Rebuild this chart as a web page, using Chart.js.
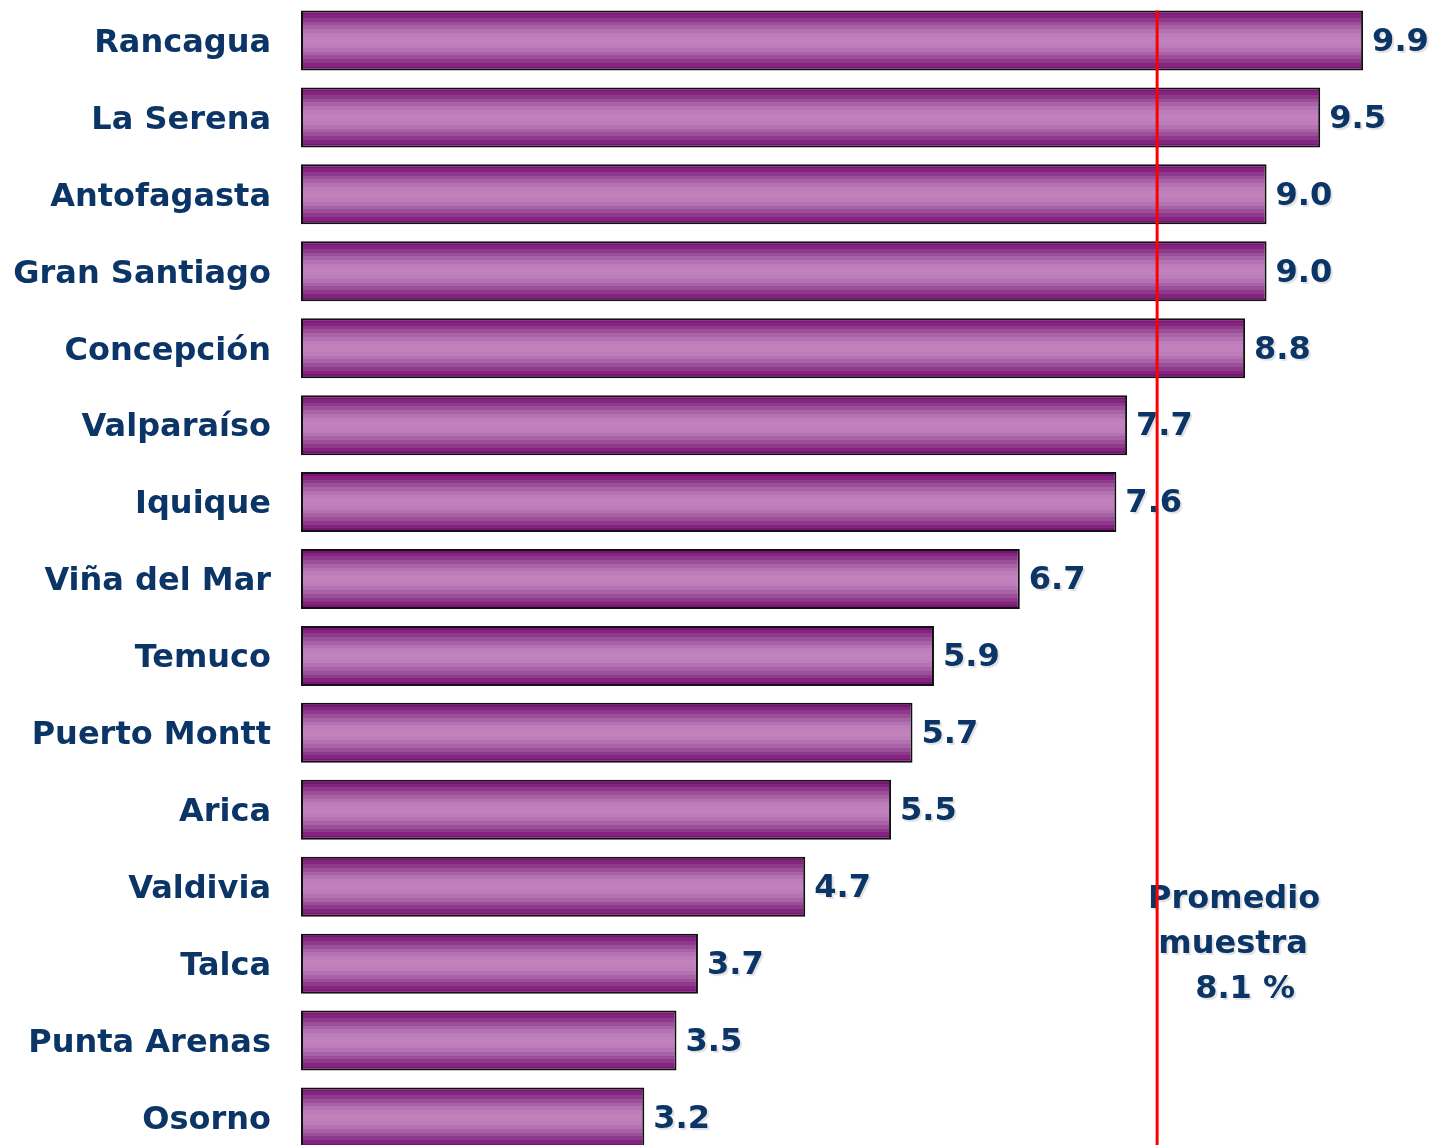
<!DOCTYPE html>
<html>
<head>
<meta charset="utf-8">
<script src="https://cdn.jsdelivr.net/npm/chart.js@4.4.1/dist/chart.umd.min.js"></script>
<style>
  html, body { margin: 0; padding: 0; background: #fff; overflow: hidden; }
  #wrap { position: relative; width: 1435px; height: 1156px; }
</style>
</head>
<body>
<div id="wrap"><canvas id="cities"></canvas></div>
<script>
const cities = ['Rancagua', 'La Serena', 'Antofagasta', 'Gran Santiago', 'Concepción', 'Valparaíso', 'Iquique',
  'Viña del Mar', 'Temuco', 'Puerto Montt', 'Arica', 'Valdivia', 'Talca', 'Punta Arenas', 'Osorno']
const rates = [9.9, 9.5, 9.0, 9.0, 8.8, 7.7, 7.6, 6.7, 5.9, 5.7, 5.5, 4.7, 3.7, 3.5, 3.2]
const avgLinePos = 7.98
const avgLabel = ['Promedio', 'muestra', '8.1 %']

const navy = '#0b3566'
const fontFamily = '"DejaVu Sans", Verdana, sans-serif'
const catPct = 0.78

// light/dark purple stripes, dark at the edges
const bandColors = ['#7a1278', '#84247f', '#8e3a8c', '#9b4f99', '#a862a6', '#b572b2', '#bd7cba', '#c081bd',
  '#c081bd', '#bd7cba', '#b572b2', '#a862a6', '#9b4f99', '#8e3a8c', '#84247f', '#7a1278']

const barFill = (ctx) => {
  const chart = ctx.chart
  const area = chart.chartArea
  if (!area) return '#a862a6'
  const yc = chart.scales.y.getPixelForValue(ctx.dataIndex)
  const half = (area.height / cities.length) * catPct / 2
  const g = chart.ctx.createLinearGradient(0, yc - half, 0, yc + half)
  const n = bandColors.length
  bandColors.forEach((c, i) => {
    g.addColorStop(i / n, c)
    g.addColorStop((i + 1) / n - 0.0001, c)
  })
  return g
}

const textShadow = (c) => {
  c.shadowColor = 'rgba(0, 0, 0, 0.12)'
  c.shadowOffsetX = 2
  c.shadowOffsetY = 2
  c.shadowBlur = 1
}

const valueLabels = {
  id: 'valueLabels',
  afterDatasetsDraw(chart) {
    const c = chart.ctx
    const meta = chart.getDatasetMeta(0)
    c.save()
    c.font = 'bold 32px ' + fontFamily
    c.fillStyle = navy
    c.textAlign = 'left'
    c.textBaseline = 'middle'
    textShadow(c)
    meta.data.forEach((bar, i) => {
      c.fillText(rates[i].toFixed(1), bar.x + 9, bar.y + 2)
    })
    c.restore()
  }
}

// average line goes over the texts, like in the slide
const avgLine = {
  id: 'avgLine',
  afterDraw(chart) {
    const c = chart.ctx
    const x = chart.scales.x.getPixelForValue(avgLinePos)
    const top = chart.getDatasetMeta(0).data[0]
    c.save()
    c.font = 'bold 32px ' + fontFamily
    c.fillStyle = navy
    c.textAlign = 'center'
    c.textBaseline = 'middle'
    textShadow(c)
    c.fillText(avgLabel[0], x + 77, 900)
    c.fillText(avgLabel[1], x + 76, 945)
    c.fillText(avgLabel[2], x + 88, 990)
    c.restore()

    c.save()
    c.strokeStyle = '#ff0000'
    c.lineWidth = 3
    c.beginPath()
    c.moveTo(x, top.y - top.height / 2)
    c.lineTo(x, chart.height)
    c.stroke()
    c.restore()
  }
}

new Chart(document.getElementById('cities'), {
  type: 'bar',
  data: {
    labels: cities,
    datasets: [{
      data: rates,
      backgroundColor: barFill,
      borderColor: '#111111',
      borderWidth: 2,
      borderSkipped: false,
      categoryPercentage: catPct,
      barPercentage: 1
    }]
  },
  options: {
    indexAxis: 'y',
    responsive: true,
    maintainAspectRatio: false,
    animation: false,
    layout: { padding: { top: 2, right: 0, bottom: 0, left: 0 } },
    plugins: {
      legend: { display: false },
      tooltip: { enabled: false }
    },
    scales: {
      x: {
        display: false,
        min: 0,
        max: 10.57
      },
      y: {
        grid: { display: false, drawTicks: false },
        border: { display: false },
        ticks: {
          color: navy,
          font: { family: fontFamily, size: 32, weight: 'bold' },
          padding: 30,
          labelOffset: 3
        },
        afterFit(scale) {
          scale.width = 301
          scale.paddingTop = 0
          scale.paddingBottom = 0
        }
      }
    }
  },
  plugins: [valueLabels, avgLine]
})
</script>
</body>
</html>
